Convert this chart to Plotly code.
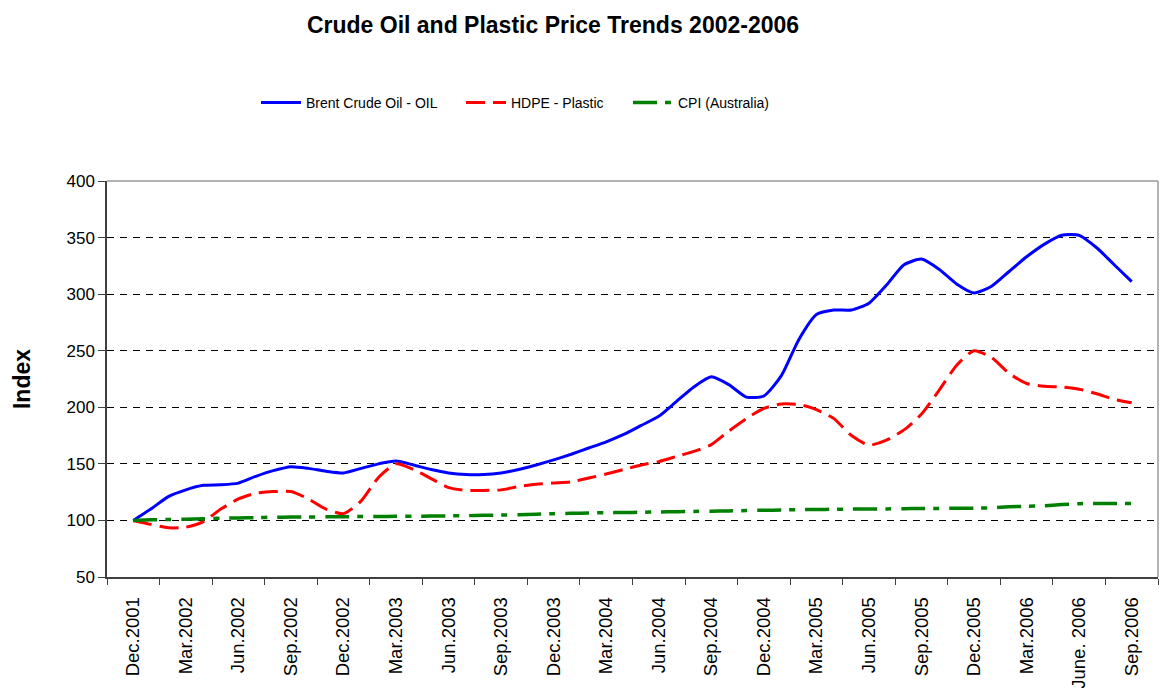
import plotly.graph_objects as go

# Quarterly axis labels (one every three months)
quarter_labels = [
    "Dec.2001", "Mar.2002", "Jun.2002", "Sep.2002", "Dec.2002",
    "Mar.2003", "Jun.2003", "Sep.2003", "Dec.2003", "Mar.2004",
    "Jun.2004", "Sep.2004", "Dec.2004", "Mar.2005", "Jun.2005",
    "Sep.2005", "Dec.2005", "Mar.2006", "June. 2006", "Sep.2006",
]

# Monthly index values, Dec 2001 = 100 (58 months, Dec 2001 .. Sep 2006)
brent_crude = [
    100, 110, 121, 127, 131, 131.5, 133, 139, 144, 147.5,
    146, 143.5, 142, 146, 150, 152.5, 149, 145, 142, 140.5,
    140.5, 142, 145, 149, 153.5, 158.5, 164, 169.5, 176, 184,
    192, 205, 218, 227, 220, 209, 210, 228, 260, 282,
    286, 286, 292, 308, 326, 331, 322, 309, 301, 307,
    320, 333, 344, 352, 352, 341, 326, 311,
]

hdpe_plastic = [
    100, 96.5, 93.5, 94, 99, 110, 119, 124, 125.5, 125.5,
    119, 110, 106, 117, 138, 150, 145, 137, 129, 126.5,
    126.5, 127, 130, 132, 133, 134, 137.5, 141, 145, 149,
    152, 156.5, 161, 167, 179, 190, 199, 203, 202.5, 198,
    190, 175, 166.5, 171, 180, 194, 215, 237, 250, 244,
    230, 221, 218.5, 218, 216, 212, 207, 204,
]

cpi_australia = [
    100, 100.5, 100.8, 101, 101.5, 102, 102.2, 102.5, 102.8, 103,
    103.1, 103.2, 103.3, 103.4, 103.5, 103.6, 103.7, 103.9, 104, 104.2,
    104.5, 104.8, 105, 105.5, 106, 106.3, 106.6, 106.8, 107, 107.2,
    107.5, 107.7, 108, 108.2, 108.4, 108.7, 109, 109.2, 109.5, 109.7,
    109.8, 110, 110, 110.2, 110.4, 110.5, 110.6, 110.7, 110.8, 111.2,
    112, 112.5, 113, 114, 114.8, 115, 115, 115,
]

months = list(range(len(brent_crude)))
label_pos = [3 * i for i in range(len(quarter_labels))]
boundary_pos = [3 * i - 1.5 for i in range(len(quarter_labels) + 1)]

FONT = "Liberation Sans, Arial, sans-serif"

fig = go.Figure()
fig.add_trace(go.Scatter(
    x=months, y=brent_crude, mode="lines", name="Brent Crude Oil - OIL",
    legendwidth=150,
    line=dict(color="#0000FF", width=3, shape="spline", smoothing=0.6),
))
fig.add_trace(go.Scatter(
    x=months, y=hdpe_plastic, mode="lines", name="HDPE - Plastic",
    legendwidth=112,
    line=dict(color="#FF0000", width=3, dash="19px,8px", shape="spline", smoothing=0.6),
))
fig.add_trace(go.Scatter(
    x=months, y=cpi_australia, mode="lines", name="CPI (Australia)",
    legendwidth=100,
    line=dict(color="#008000", width=3.5, dash="24px,8px,6px,10px", shape="spline", smoothing=0.6),
))

fig.update_layout(
    width=1164, height=688,
    margin=dict(l=107, r=6, t=181, b=111, autoexpand=False),
    paper_bgcolor="white", plot_bgcolor="white",
    font=dict(family=FONT, color="black"),
    title=dict(
        text="<b>Crude Oil and Plastic Price Trends 2002-2006</b>",
        font=dict(family=FONT, size=23, color="black"),
        x=553 / 1164, xref="container", xanchor="center",
        y=1 - 25 / 688, yref="container", yanchor="middle",
    ),
    legend=dict(
        orientation="h",
        xref="container", yref="container",
        x=256 / 1164, xanchor="left",
        y=1 - 103 / 688, yanchor="middle",
        itemwidth=40,
        font=dict(family=FONT, size=14, color="black"),
        bgcolor="rgba(0,0,0,0)",
    ),
    showlegend=True,
)

fig.update_xaxes(
    range=[-1.5, 58.5], automargin=False,
    tickmode="array", tickvals=label_pos, ticktext=quarter_labels,
    tickangle=-90, tickfont=dict(family=FONT, size=18.5, color="black"),
    ticks="outside", ticklen=11, tickcolor="rgba(0,0,0,0)",
    showgrid=False, zeroline=False,
    showline=True, linecolor="#404040", linewidth=1.5,
    minor=dict(tickmode="array", tickvals=boundary_pos, ticks="outside",
               ticklen=6, tickcolor="#404040", tickwidth=1, showgrid=False),
)

fig.update_yaxes(
    range=[50, 400], automargin=False,
    tickmode="array", tickvals=list(range(50, 401, 50)),
    tickfont=dict(family=FONT, size=17, color="black"),
    ticks="outside", ticklen=7, tickcolor="#404040", tickwidth=1,
    showgrid=True, gridcolor="#000000", gridwidth=1, griddash="7px,6px",
    zeroline=False,
    showline=True, linecolor="#404040", linewidth=1.5,
    title=dict(text="<b>Index</b>", font=dict(family=FONT, size=23, color="black"), standoff=29),
)

# Plot-area frame on the top and right sides
fig.add_shape(type="line", xref="paper", yref="paper", x0=0, x1=1, y0=1, y1=1,
              line=dict(color="#9a9a9a", width=1.5), layer="above")
fig.add_shape(type="line", xref="paper", yref="paper", x0=1, x1=1, y0=0, y1=1,
              line=dict(color="#9a9a9a", width=1.5), layer="above")

fig.write_html("out.html")
